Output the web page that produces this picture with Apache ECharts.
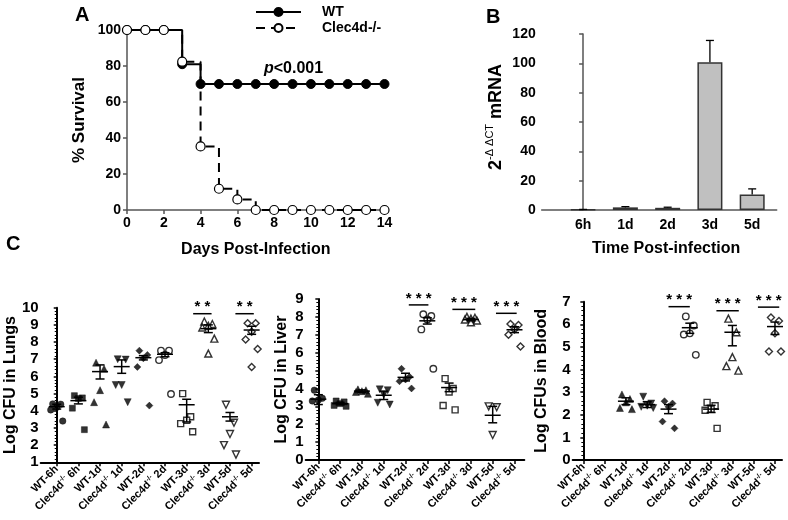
<!DOCTYPE html>
<html><head><meta charset="utf-8">
<script src="https://cdn.jsdelivr.net/npm/echarts@6/dist/echarts.min.js"></script>
<style>html,body{margin:0;padding:0;background:#fff}#c{width:788px;height:520px}</style>
</head><body><div id="c"></div>
<script>
// ---------- Panel A: survival ----------
const days = [0,1,2,3,4,5,6,7,8,9,10,11,12,13,14];
const survivalWT = [100,100,100,81,70,70,70,70,70,70,70,70,70,70,70];
const survivalKO = [100,100,100,82.4,35.3,11.8,5.9,0,0,0,0,0,0,0,0];

// ---------- Panel B: mRNA ----------
const timeCats = ['6h','1d','2d','3d','5d'];
const mrnaMean = [0.3,1.8,1.5,100.8,10.6];
const mrnaSem = [0.1,0.5,0.4,14.8,3.8];

// ---------- Panel C ----------
const groupLabels = ['WT-6h','Clec4d-/- 6h','WT-1d','Clec4d-/- 1d','WT-2d','Clec4d-/- 2d','WT-3d','Clec4d-/- 3d','WT-5d','Clec4d-/- 5d'];

const lungsValues = [
  [4.4,4.38,4.2,4.05,3.4],
  [4.88,4.75,4.72,4.15,2.9],
  [6.8,6.45,5.2,4.5,3.2],
  [7.0,6.98,5.5,5.5,4.5],
  [7.5,7.25,7.05,6.55,4.3],
  [7.5,7.5,7.25,6.95,4.98],
  [5.0,3.65,3.45,3.25,2.78],
  [9.2,9.05,8.95,8.85,8.2,7.33],
  [4.35,3.3,2.65,2.0,1.45],
  [9.1,9.1,8.6,8.15,7.6,6.55]
];
const lungsMean = [4.24,4.59,6.28,6.57,7.09,7.29,4.35,8.78,3.65,8.7];
const lungsHi   = [4.38,4.79,6.67,6.96,7.21,7.38,4.67,9.0,3.9,8.92];
const lungsLo   = [4.1,4.4,5.85,6.18,6.96,7.15,3.35,8.55,3.4,8.45];
const lungsSig  = [[6.3,7.15,9.65,2],[8.25,9.1,9.65,2]];

const liverValues = [
  [3.9,3.45,3.35,3.3],
  [3.3,3.25,3.15,3.05,3.0],
  [3.95,3.9,3.85,3.8,3.7],
  [3.95,3.9,3.65,3.2,3.1],
  [5.1,4.65,4.5,4.4,4.0],
  [8.15,8.05,7.85,7.3,5.1],
  [4.55,4.0,3.8,3.05,2.8],
  [8.0,7.95,7.9,7.85,7.8,7.7],
  [3.0,2.95,1.4],
  [7.6,7.55,7.3,7.0,6.35]
];
const liverMean = [3.4,3.15,3.85,3.62,4.62,7.78,4.05,7.85,2.5,7.28];
const liverHi   = [3.65,3.22,3.92,3.85,4.85,7.95,4.3,7.92,3.0,7.45];
const liverLo   = [3.1,3.08,3.78,3.38,4.42,7.6,3.82,7.78,2.08,7.12];
const liverSig  = [[4.15,5.05,8.67,3],[6.15,7.2,8.42,3],[8.15,9.1,8.2,3]];

const bloodValues = [
  [],
  [],
  [2.9,2.7,2.55,2.3,2.25],
  [2.8,2.5,2.4,2.35,2.3],
  [2.6,2.5,2.35,1.7,1.4],
  [6.35,5.95,5.6,5.55,4.65],
  [2.55,2.4,2.25,2.2,1.4],
  [6.25,5.65,4.55,4.15,3.95],
  [],
  [6.3,6.15,5.6,4.8,4.8]
];
const bloodMean = [null,null,2.6,2.45,2.25,5.85,2.25,5.65,null,5.9];
const bloodHi   = [null,null,2.75,2.58,2.45,6.05,2.42,5.95,null,6.1];
const bloodLo   = [null,null,2.45,2.32,2.05,5.6,2.1,5.05,null,5.55];
const bloodSig  = [[4.0,5.0,6.78,3],[6.25,7.3,6.6,3],[8.2,9.2,6.76,3]];

// ---------- styling ----------
const FONT = '"Liberation Sans", Arial, sans-serif';
const NARROW = '"Liberation Sans Narrow", "Liberation Sans", Arial, sans-serif';
const markerShapes = ['circle','rect','triangle','triangle','diamond','circle','rect','triangle','triangle','diamond'];
const markerRot    = [0,0,0,180,0,0,0,0,180,0];
const markerFilled = [true,true,true,true,true,false,false,false,false,false];
const markerSize   = [6.5,6,7,7,7,6.5,6,7,7,7];
const jitter = [-4,4,0,-6,6,0];

function richLabel(s){
  if (s.indexOf('Clec4d') === 0) {
    const t = s.split(' ')[1];
    return '{n|Clec4d}{s|-/-}{n| ' + t + '}';
  }
  return '{n|' + s + '}';
}

const chart = echarts.init(document.getElementById('c'));

const grids = [
  {left:127, top:30, width:257.5, height:180},
  {left:541.7, top:34, width:235, height:176},
  {left:40.7, top:307.7, width:218.3, height:154.6},
  {left:305.7, top:299, width:218.6, height:161},
  {left:572.7, top:301.7, width:209.3, height:158.3}
];

const axisGray = {show:true, lineStyle:{color:'#555', width:1.5}};
const tickLbl = {color:'#000', fontWeight:'bold', fontSize:14, fontFamily:FONT};

const xAxes = [
  {gridIndex:0, type:'value', min:0, max:14, interval:2, axisLine:axisGray,
   axisTick:{show:true, length:4, lineStyle:{color:'#555', width:1.5}}, splitLine:{show:false},
   axisLabel:Object.assign({margin:6}, tickLbl),
   name:'Days Post-Infection', nameLocation:'middle', nameGap:32,
   nameTextStyle:{fontSize:16, fontWeight:'bold', color:'#000', fontFamily:FONT}},
  {gridIndex:1, type:'value', min:-0.98, max:4.58, axisLine:axisGray,
   axisTick:{show:false}, splitLine:{show:false},
   axisLabel:Object.assign({margin:8, customValues:[0,1,2,3,4], formatter:v=>timeCats[Math.round(v)]}, tickLbl),
   name:'Time Post-infection', nameLocation:'middle', nameGap:31,
   nameTextStyle:{fontSize:16, fontWeight:'bold', color:'#000', fontFamily:FONT, padding:[0,0,0,14]}}
];
const yAxes = [
  {gridIndex:0, type:'value', min:0, max:100, interval:20, axisLine:axisGray,
   axisTick:{show:true, length:4, lineStyle:{color:'#555', width:1.5}}, splitLine:{show:false},
   axisLabel:Object.assign({margin:6}, tickLbl),
   name:'% Survival', nameLocation:'middle', nameGap:39,
   nameTextStyle:{fontSize:17, fontWeight:'bold', color:'#000', fontFamily:FONT}},
  {gridIndex:1, type:'value', min:0, max:120, interval:20, axisLine:axisGray,
   axisTick:{show:true, length:4, lineStyle:{color:'#555', width:1.5}}, splitLine:{show:false},
   axisLabel:Object.assign({margin:6}, tickLbl),
   name:'{b|2}{s|-Δ ΔCT}{b| mRNA}', nameLocation:'middle', nameGap:35,
   nameTextStyle:{color:'#000', fontFamily:FONT, padding:[0,0,0,10],
     rich:{b:{fontSize:18, fontWeight:'bold', color:'#000', fontFamily:FONT, lineHeight:22},
           s:{fontSize:11, color:'#000', fontFamily:FONT, verticalAlign:'top', lineHeight:22}}}}
];

const cPanels = [
  {values:lungsValues, mean:lungsMean, hi:lungsHi, lo:lungsLo, sig:lungsSig, ymin:1, ymax:10, xmin:-0.74, xmax:9.34, name:'Log CFU in Lungs', gap:21},
  {values:liverValues, mean:liverMean, hi:liverHi, lo:liverLo, sig:liverSig, ymin:0, ymax:9, xmin:-0.58, xmax:9.45, name:'Log CFU in Liver', gap:16},
  {values:bloodValues, mean:bloodMean, hi:bloodHi, lo:bloodLo, sig:bloodSig, ymin:0, ymax:7, xmin:-0.5, xmax:9.33, name:'Log CFUs in Blood', gap:23}
];

const series = [
  {name:'WT', type:'line', xAxisIndex:0, yAxisIndex:0, step:'end',
   data:days.map((d,i)=>[d, survivalWT[i]]),
   symbol:'circle', symbolSize:9, itemStyle:{color:'#000', borderColor:'#000', borderWidth:1},
   lineStyle:{color:'#000', width:2}},
  {name:'Clec4d-/-', type:'line', xAxisIndex:0, yAxisIndex:0, step:'end',
   data:days.map((d,i)=>[d, survivalKO[i]]),
   symbol:'circle', symbolSize:9, itemStyle:{color:'#fff', borderColor:'#000', borderWidth:1.2},
   lineStyle:{color:'#000', width:2, type:[9,6]}},
  {type:'bar', xAxisIndex:1, yAxisIndex:1, barWidth:25,
   data:timeCats.map((c,i)=>[i, mrnaMean[i]]),
   itemStyle:{color:'#c0c0c0', borderColor:'#333', borderWidth:1.5}},
  {type:'custom', xAxisIndex:1, yAxisIndex:1,
   data:timeCats.map((c,i)=>[i, mrnaMean[i], mrnaMean[i]+mrnaSem[i]]),
   renderItem:function(p, api){
     const a = api.coord([api.value(0), api.value(1)]);
     const b = api.coord([api.value(0), api.value(2)]);
     const st = {stroke:'#000', lineWidth:1.3};
     return {type:'group', children:[
       {type:'line', shape:{x1:a[0], y1:a[1], x2:b[0], y2:b[1]}, style:st},
       {type:'line', shape:{x1:b[0]-4, y1:b[1], x2:b[0]+4, y2:b[1]}, style:st}
     ]};
   }, z:3}
];

cPanels.forEach((cp, k) => {
  const gi = k + 2;
  xAxes.push({gridIndex:gi, type:'value', min:cp.xmin, max:cp.xmax,
    axisLine:{show:true, lineStyle:{color:'#000', width:2}},
    axisTick:{show:true, length:4, customValues:[0,1,2,3,4,5,6,7,8,9], lineStyle:{color:'#000', width:1.5}},
    splitLine:{show:false},
    axisLabel:{customValues:[0,1,2,3,4,5,6,7,8,9], rotate:45, margin:5,
      formatter:v=>richLabel(groupLabels[Math.round(v)]),
      rich:{n:{fontSize:11, fontWeight:'bold', color:'#000', fontFamily:FONT, lineHeight:14},
            s:{fontSize:7, fontWeight:'bold', color:'#000', fontFamily:FONT, verticalAlign:'top', lineHeight:14}}}});
  yAxes.push({gridIndex:gi, type:'value', min:cp.ymin, max:cp.ymax, interval:1,
    axisLine:{show:true, lineStyle:{color:'#000', width:2}},
    axisTick:{show:true, length:3, lineStyle:{color:'#000', width:1.5}},
    minorTick:{show:true, splitNumber:5, length:2, lineStyle:{color:'#000', width:1}},
    splitLine:{show:false},
    axisLabel:{margin:2, color:'#000', fontWeight:'bold', fontSize:15, fontFamily:NARROW},
    name:cp.name, nameLocation:'middle', nameGap:cp.gap,
    nameTextStyle:{fontSize:16, fontWeight:'bold', color:'#000', fontFamily:FONT}});
  const pts = [];
  cp.values.forEach((arr, g) => {
    arr.forEach((v, j) => {
      pts.push({value:[g, v], symbol:markerShapes[g], symbolRotate:markerRot[g], symbolSize:markerSize[g],
        symbolOffset:[jitter[j % jitter.length], 0],
        itemStyle: markerFilled[g] ? {color:'#000', borderColor:'#000', borderWidth:0.5}
                                  : {color:'#fff', borderColor:'#000', borderWidth:1.4}});
    });
  });
  series.push({type:'scatter', xAxisIndex:gi, yAxisIndex:gi, data:pts, z:2});
  const eb = [];
  cp.mean.forEach((m, g) => { if (m !== null) eb.push([g, m, cp.lo[g], cp.hi[g]]); });
  series.push({type:'custom', xAxisIndex:gi, yAxisIndex:gi, data:eb, z:4,
    renderItem:function(p, api){
      const x = api.value(0);
      const pm = api.coord([x, api.value(1)]);
      const pl = api.coord([x, api.value(2)]);
      const ph = api.coord([x, api.value(3)]);
      const st = {stroke:'#000', lineWidth:1.5};
      return {type:'group', children:[
        {type:'line', shape:{x1:pm[0]-8, y1:pm[1], x2:pm[0]+8, y2:pm[1]}, style:st},
        {type:'line', shape:{x1:pl[0], y1:pl[1], x2:ph[0], y2:ph[1]}, style:st},
        {type:'line', shape:{x1:ph[0]-4.5, y1:ph[1], x2:ph[0]+4.5, y2:ph[1]}, style:st},
        {type:'line', shape:{x1:pl[0]-4.5, y1:pl[1], x2:pl[0]+4.5, y2:pl[1]}, style:st}
      ]};
    }});
  series.push({type:'custom', xAxisIndex:gi, yAxisIndex:gi, data:cp.sig, z:4,
    renderItem:function(p, api){
      const a = api.coord([api.value(0), api.value(2)]);
      const b = api.coord([api.value(1), api.value(2)]);
      const n = api.value(3);
      const stars = new Array(n).fill('*').join(' ');
      return {type:'group', children:[
        {type:'line', shape:{x1:a[0], y1:a[1], x2:b[0], y2:b[1]}, style:{stroke:'#000', lineWidth:1.5}},
        {type:'text', x:(a[0]+b[0])/2, y:a[1]+1, style:{text:stars, fill:'#000', fontSize:15, fontWeight:'bold', fontFamily:FONT, align:'center', verticalAlign:'bottom'}}
      ]};
    }});
});

chart.setOption({
  animation:false,
  backgroundColor:'#fff',
  grid:grids, xAxis:xAxes, yAxis:yAxes, series:series,
  legend:{data:['WT','Clec4d-/-'], orient:'vertical', left:250, top:0, itemWidth:45, itemHeight:10, itemGap:2,
    textStyle:{fontSize:14, fontWeight:'bold', color:'#000', fontFamily:FONT, padding:[0,0,0,16]}},
  title:[
    {text:'A', left:70, top:0, textStyle:{fontSize:20, fontWeight:'bold', color:'#000', fontFamily:FONT}},
    {text:'B', left:481, top:2, textStyle:{fontSize:20, fontWeight:'bold', color:'#000', fontFamily:FONT}},
    {text:'C', left:1, top:229, textStyle:{fontSize:20, fontWeight:'bold', color:'#000', fontFamily:FONT}},
    {text:'{i|p}{r|<0.001}', left:259, top:56, textStyle:{rich:{
      i:{fontSize:16, fontWeight:'bold', fontStyle:'italic', color:'#000', fontFamily:FONT},
      r:{fontSize:16, fontWeight:'bold', color:'#000', fontFamily:FONT}}}}
  ]
});
</script>
</body></html>
